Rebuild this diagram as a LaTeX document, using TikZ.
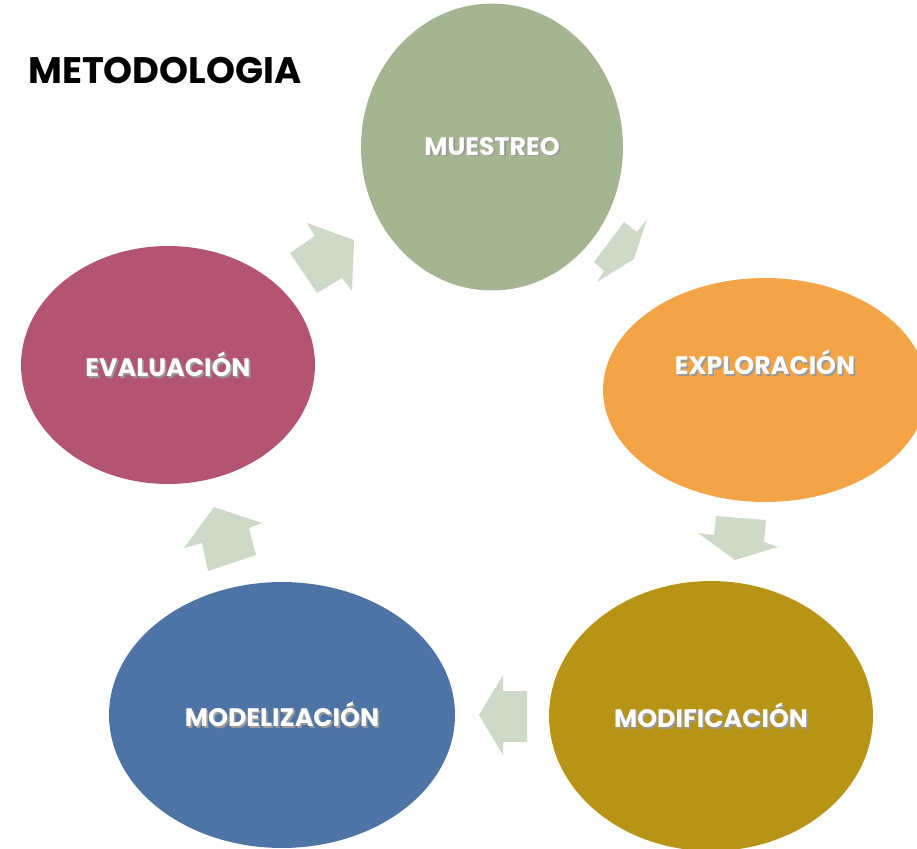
\documentclass[tikz,border=0pt]{standalone}
\usepackage{fontspec}
\setmainfont{Poppins}
\usepackage{xcolor}
\usepackage{tikz}
\usetikzlibrary{shapes.geometric}

\definecolor{muesC}{HTML}{A5B592}
\definecolor{explC}{HTML}{F2A447}
\definecolor{modifC}{HTML}{B89416}
\definecolor{modelC}{HTML}{4E74A5}
\definecolor{evalC}{HTML}{B35473}
\definecolor{flowC}{HTML}{CFD9C8}

% white text with a soft drop shadow
\newcommand{\shtext}[1]{\makebox[0pt][l]{\hspace{1pt}\raisebox{-1pt}{\color{black!40}#1}}#1}

\begin{document}
\begin{tikzpicture}[
    x=0.02cm, y=-0.02cm,
    blob/.style={
        ellipse,
        draw=none,
        inner sep=0pt,
        text=white,
        font=\bfseries\fontsize{14.4}{17}\selectfont
    },
    flow/.style={fill=flowC, draw=none},
    heading/.style={font=\bfseries\fontsize{21}{24}\selectfont, inner sep=0pt, anchor=west}
]
\useasboundingbox (0,0) rectangle (917,849);
\clip (0,0) rectangle (917,849);

%  Title 
\node[heading] (title) at (28,70) {METODOLOGIA};

%  Phases 
\node[blob, fill=muesC, minimum width=5.24cm, minimum height=5.74cm] (mues) at (492,147) {\shtext{MUESTREO}};
\node[blob, fill=explC, minimum width=6.48cm, minimum height=4.48cm,
      label={[blob, yshift=0.54cm]center:\shtext{EXPLORACIÓN}}] (expl) at (765,390) {};
\node[blob, fill=modifC, minimum width=6.48cm, minimum height=5.40cm] (modif) at (711,716) {\shtext{MODIFICACIÓN}};
\node[blob, fill=modelC, minimum width=6.92cm, minimum height=5.32cm] (model) at (282,715) {\shtext{MODELIZACIÓN}};
\node[blob, fill=evalC, minimum width=5.88cm, minimum height=4.76cm] (eval) at (168,365) {\shtext{EVALUACIÓN}};

%  Block arrows 
% eval -> mues
\fill[flow] (290,253) -- (315,236) -- (307,223) -- (354,240) -- (352,291) -- (342,278) -- (317,293) -- cycle;
% mues -> expl
\fill[flow] (624,222) -- (637,232) -- (647,219) -- (634,259) -- (597,282) -- (604,271) -- (594,262) -- cycle;
% expl -> modif
\fill[flow] (716,516) -- (766,520) -- (764,542) -- (778,547) -- (735,560) -- (698,533) -- (714,535) -- cycle;
% modif -> model
\fill[flow] (527,691) -- (503,691) -- (503,675) -- (479,715) -- (503,755) -- (503,742) -- (527,742) -- cycle;
% model -> eval
\fill[flow] (256,555) -- (208,571) -- (202,543) -- (184,548) -- (214,507) -- (262,523) -- (249,528) -- cycle;

\end{tikzpicture}
\end{document}
